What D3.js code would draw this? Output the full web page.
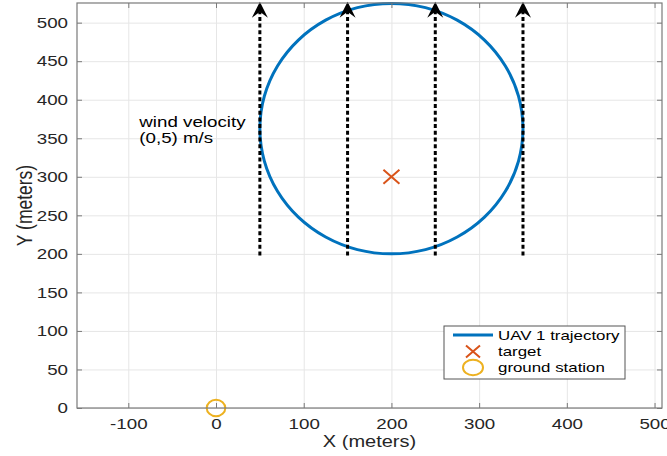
<!DOCTYPE html>
<html>
<head>
<meta charset="utf-8">
<script src="https://cdn.jsdelivr.net/npm/d3@7"></script>
<style>
  body { margin: 0; background: #fff; }
  svg { display: block; font-family: "Liberation Sans", Arial, sans-serif; }
</style>
</head>
<body>
<div id="chart"></div>
<script>
var xTicks = [-100, 0, 100, 200, 300, 400, 500];
var yTicks = [0, 50, 100, 150, 200, 250, 300, 350, 400, 450, 500];

// UAV 1 trajectory (counter clockwise from the right)
var trajX = [350, 344.9, 329.9, 306.1, 275, 238.8, 200, 161.2, 125, 93.9, 70.1, 55.1,
  50, 55.1, 70.1, 93.9, 125, 161.2, 200, 238.8, 275, 306.1, 329.9, 344.9];
var trajY = [362.5, 404.6, 443.8, 477.4, 503.2, 519.5, 525, 519.5, 503.2, 477.4, 443.8, 404.6,
  362.5, 320.4, 281.2, 247.6, 221.8, 205.5, 200, 205.5, 221.8, 247.6, 281.2, 320.4];

var windX = [50, 150, 250, 350];
var windFrom = [198, 198, 198, 198];
var windTo = [527, 527, 527, 527];
var windLabel = ['wind velocity', '(0,5) m/s'];
var windLabelPos = [-87.5, 365];

var targetPos = [200, 300];
var stationPos = [0, 0];

var legendLabels = ['UAV 1 trajectory', 'target', 'ground station'];
var xLabel = 'X (meters)';
var yLabel = 'Y (meters)';

(function () {
  var width = 667;
  var height = 456;
  var margin = { top: 3, right: 5, bottom: 48, left: 77 };
  var stretch = 1.25; // the picture is stretched sideways
  var blue = '#0072BD';
  var orange = '#D95319';
  var yellow = '#EDB120';
  var axisColor = '#7a7a7a';
  var textColor = '#262626';
  var plain = function (d) { return String(d); };

  var svg = d3.select('#chart').append('svg')
      .attr('width', width)
      .attr('height', height);

  var x = d3.scaleLinear().domain([-158.5, 508.5]).range([margin.left, width - margin.right]);
  var y = d3.scaleLinear().domain([0, 525.5]).range([height - margin.bottom, margin.top]);
  var plotW = width - margin.left - margin.right;
  var plotH = height - margin.top - margin.bottom;

  // grid
  svg.append('g')
      .attr('transform', 'translate(0,' + (height - margin.bottom) + ')')
      .call(d3.axisBottom(x).tickValues(xTicks).tickSize(-plotH).tickFormat(''))
      .call(function (g) { g.select('.domain').remove(); })
      .selectAll('line').attr('stroke', '#e6e6e6');
  svg.append('g')
      .attr('transform', 'translate(' + margin.left + ',0)')
      .call(d3.axisLeft(y).tickValues(yTicks).tickSize(-plotW).tickFormat(''))
      .call(function (g) { g.select('.domain').remove(); })
      .selectAll('line').attr('stroke', '#e6e6e6');

  // trajectory
  var line = d3.line()
      .x(function (d) { return x(d[0]); })
      .y(function (d) { return y(d[1]); })
      .curve(d3.curveCatmullRomClosed);
  svg.append('path')
      .datum(d3.zip(trajX, trajY))
      .attr('d', line)
      .attr('fill', 'none')
      .attr('stroke', blue)
      .attr('stroke-width', 3);

  // target
  var tx = x(targetPos[0]), ty = y(targetPos[1]);
  svg.append('path')
      .attr('d', 'M' + (tx - 8) + ',' + (ty - 7) + 'L' + (tx + 8) + ',' + (ty + 7) +
          'M' + (tx - 8) + ',' + (ty + 7) + 'L' + (tx + 8) + ',' + (ty - 7))
      .attr('stroke', orange)
      .attr('stroke-width', 2)
      .attr('fill', 'none');

  // ground station
  svg.append('ellipse')
      .attr('cx', x(stationPos[0]))
      .attr('cy', y(stationPos[1]))
      .attr('rx', 9.3)
      .attr('ry', 8.3)
      .attr('fill', 'none')
      .attr('stroke', yellow)
      .attr('stroke-width', 2);

  // wind arrows
  var wind = svg.append('g').selectAll('g.wind')
      .data(windX.map(function (v, i) { return { x: v, from: windFrom[i], to: windTo[i] }; }))
      .enter().append('g').attr('class', 'wind');
  wind.append('line')
      .attr('x1', function (d) { return x(d.x); })
      .attr('x2', function (d) { return x(d.x); })
      .attr('y1', function (d) { return y(d.from); })
      .attr('y2', function (d) { return y(d.to) + 10; })
      .attr('stroke', '#000')
      .attr('stroke-width', 3)
      .attr('stroke-dasharray', '4,2.7');
  wind.append('path')
      .attr('d', function (d) {
        var px = x(d.x), py = y(d.to);
        return 'M' + px + ',' + py + 'L' + (px + 8) + ',' + (py + 16) + 'L' + px + ',' + (py + 10) +
            'L' + (px - 8) + ',' + (py + 16) + 'Z';
      })
      .attr('fill', '#000');

  // wind label
  svg.append('text')
      .attr('transform', 'translate(' + x(windLabelPos[0]) + ',' + y(windLabelPos[1]) + ') scale(' + stretch + ',1)')
      .attr('font-size', 15)
      .attr('fill', '#000')
      .selectAll('tspan').data(windLabel)
      .enter().append('tspan')
      .attr('x', 0)
      .attr('y', function (d, i) { return i * 16.6; })
      .text(function (d) { return d; });

  // axes
  var xAxis = svg.append('g')
      .attr('transform', 'translate(0,' + (height - margin.bottom) + ')')
      .call(d3.axisBottom(x).tickValues(xTicks).tickFormat(plain)
          .tickSizeInner(-5).tickSizeOuter(0).tickPadding(10));
  var yAxis = svg.append('g')
      .attr('transform', 'translate(' + margin.left + ',0)')
      .call(d3.axisLeft(y).tickValues(yTicks).tickFormat(plain)
          .tickSizeInner(-5).tickSizeOuter(0).tickPadding(9 / stretch));
  svg.append('g')
      .attr('transform', 'translate(0,' + margin.top + ')')
      .call(d3.axisTop(x).tickValues(xTicks).tickSizeInner(-5).tickSizeOuter(0).tickFormat(''));
  svg.append('g')
      .attr('transform', 'translate(' + (width - margin.right) + ',0)')
      .call(d3.axisRight(y).tickValues(yTicks).tickSizeInner(-5).tickSizeOuter(0).tickFormat(''));

  svg.selectAll('.domain').remove();
  svg.selectAll('.tick line').filter(function () { return d3.select(this).attr('stroke') !== '#e6e6e6'; })
      .attr('stroke', axisColor);
  [xAxis, yAxis].forEach(function (a) {
    a.selectAll('text')
        .attr('font-family', '"Liberation Sans", Arial, sans-serif')
        .attr('font-size', 15)
        .attr('fill', textColor)
        .attr('transform', 'scale(' + stretch + ',1)');
  });

  svg.append('rect')
      .attr('x', margin.left)
      .attr('y', margin.top)
      .attr('width', plotW)
      .attr('height', plotH)
      .attr('fill', 'none')
      .attr('stroke', axisColor)
      .attr('stroke-width', 1.2);

  // axis labels
  svg.append('text')
      .attr('transform', 'translate(' + (margin.left + plotW / 2) + ',446.5) scale(' + stretch + ',1)')
      .attr('text-anchor', 'middle')
      .attr('font-size', 16)
      .attr('fill', textColor)
      .text(xLabel);
  svg.append('text')
      .attr('transform', 'translate(32,' + (margin.top + plotH / 2) + ') scale(' + stretch + ',1) rotate(-90)')
      .attr('text-anchor', 'middle')
      .attr('font-size', 17.5)
      .attr('fill', textColor)
      .text(yLabel);

  // legend
  var lg = svg.append('g');
  lg.append('rect')
      .attr('x', 444)
      .attr('y', 326)
      .attr('width', 181)
      .attr('height', 53)
      .attr('fill', '#fff')
      .attr('stroke', '#555')
      .attr('stroke-width', 1);
  var rowY = [335, 351.5, 367.5];
  lg.append('line')
      .attr('x1', 453).attr('x2', 493)
      .attr('y1', rowY[0]).attr('y2', rowY[0])
      .attr('stroke', blue)
      .attr('stroke-width', 3);
  lg.append('path')
      .attr('d', 'M466,' + (rowY[1] - 6) + 'L480,' + (rowY[1] + 6) + 'M466,' + (rowY[1] + 6) + 'L480,' + (rowY[1] - 6))
      .attr('stroke', orange)
      .attr('stroke-width', 2);
  lg.append('ellipse')
      .attr('cx', 473).attr('cy', rowY[2])
      .attr('rx', 10).attr('ry', 7.8)
      .attr('fill', 'none')
      .attr('stroke', yellow)
      .attr('stroke-width', 2);
  lg.selectAll('text').data(legendLabels)
      .enter().append('text')
      .attr('transform', function (d, i) { return 'translate(498,' + rowY[i] + ') scale(' + stretch + ',1)'; })
      .attr('dy', '0.35em')
      .attr('font-size', 13.5)
      .attr('fill', '#000')
      .text(function (d) { return d; });
})();
</script>
</body>
</html>
